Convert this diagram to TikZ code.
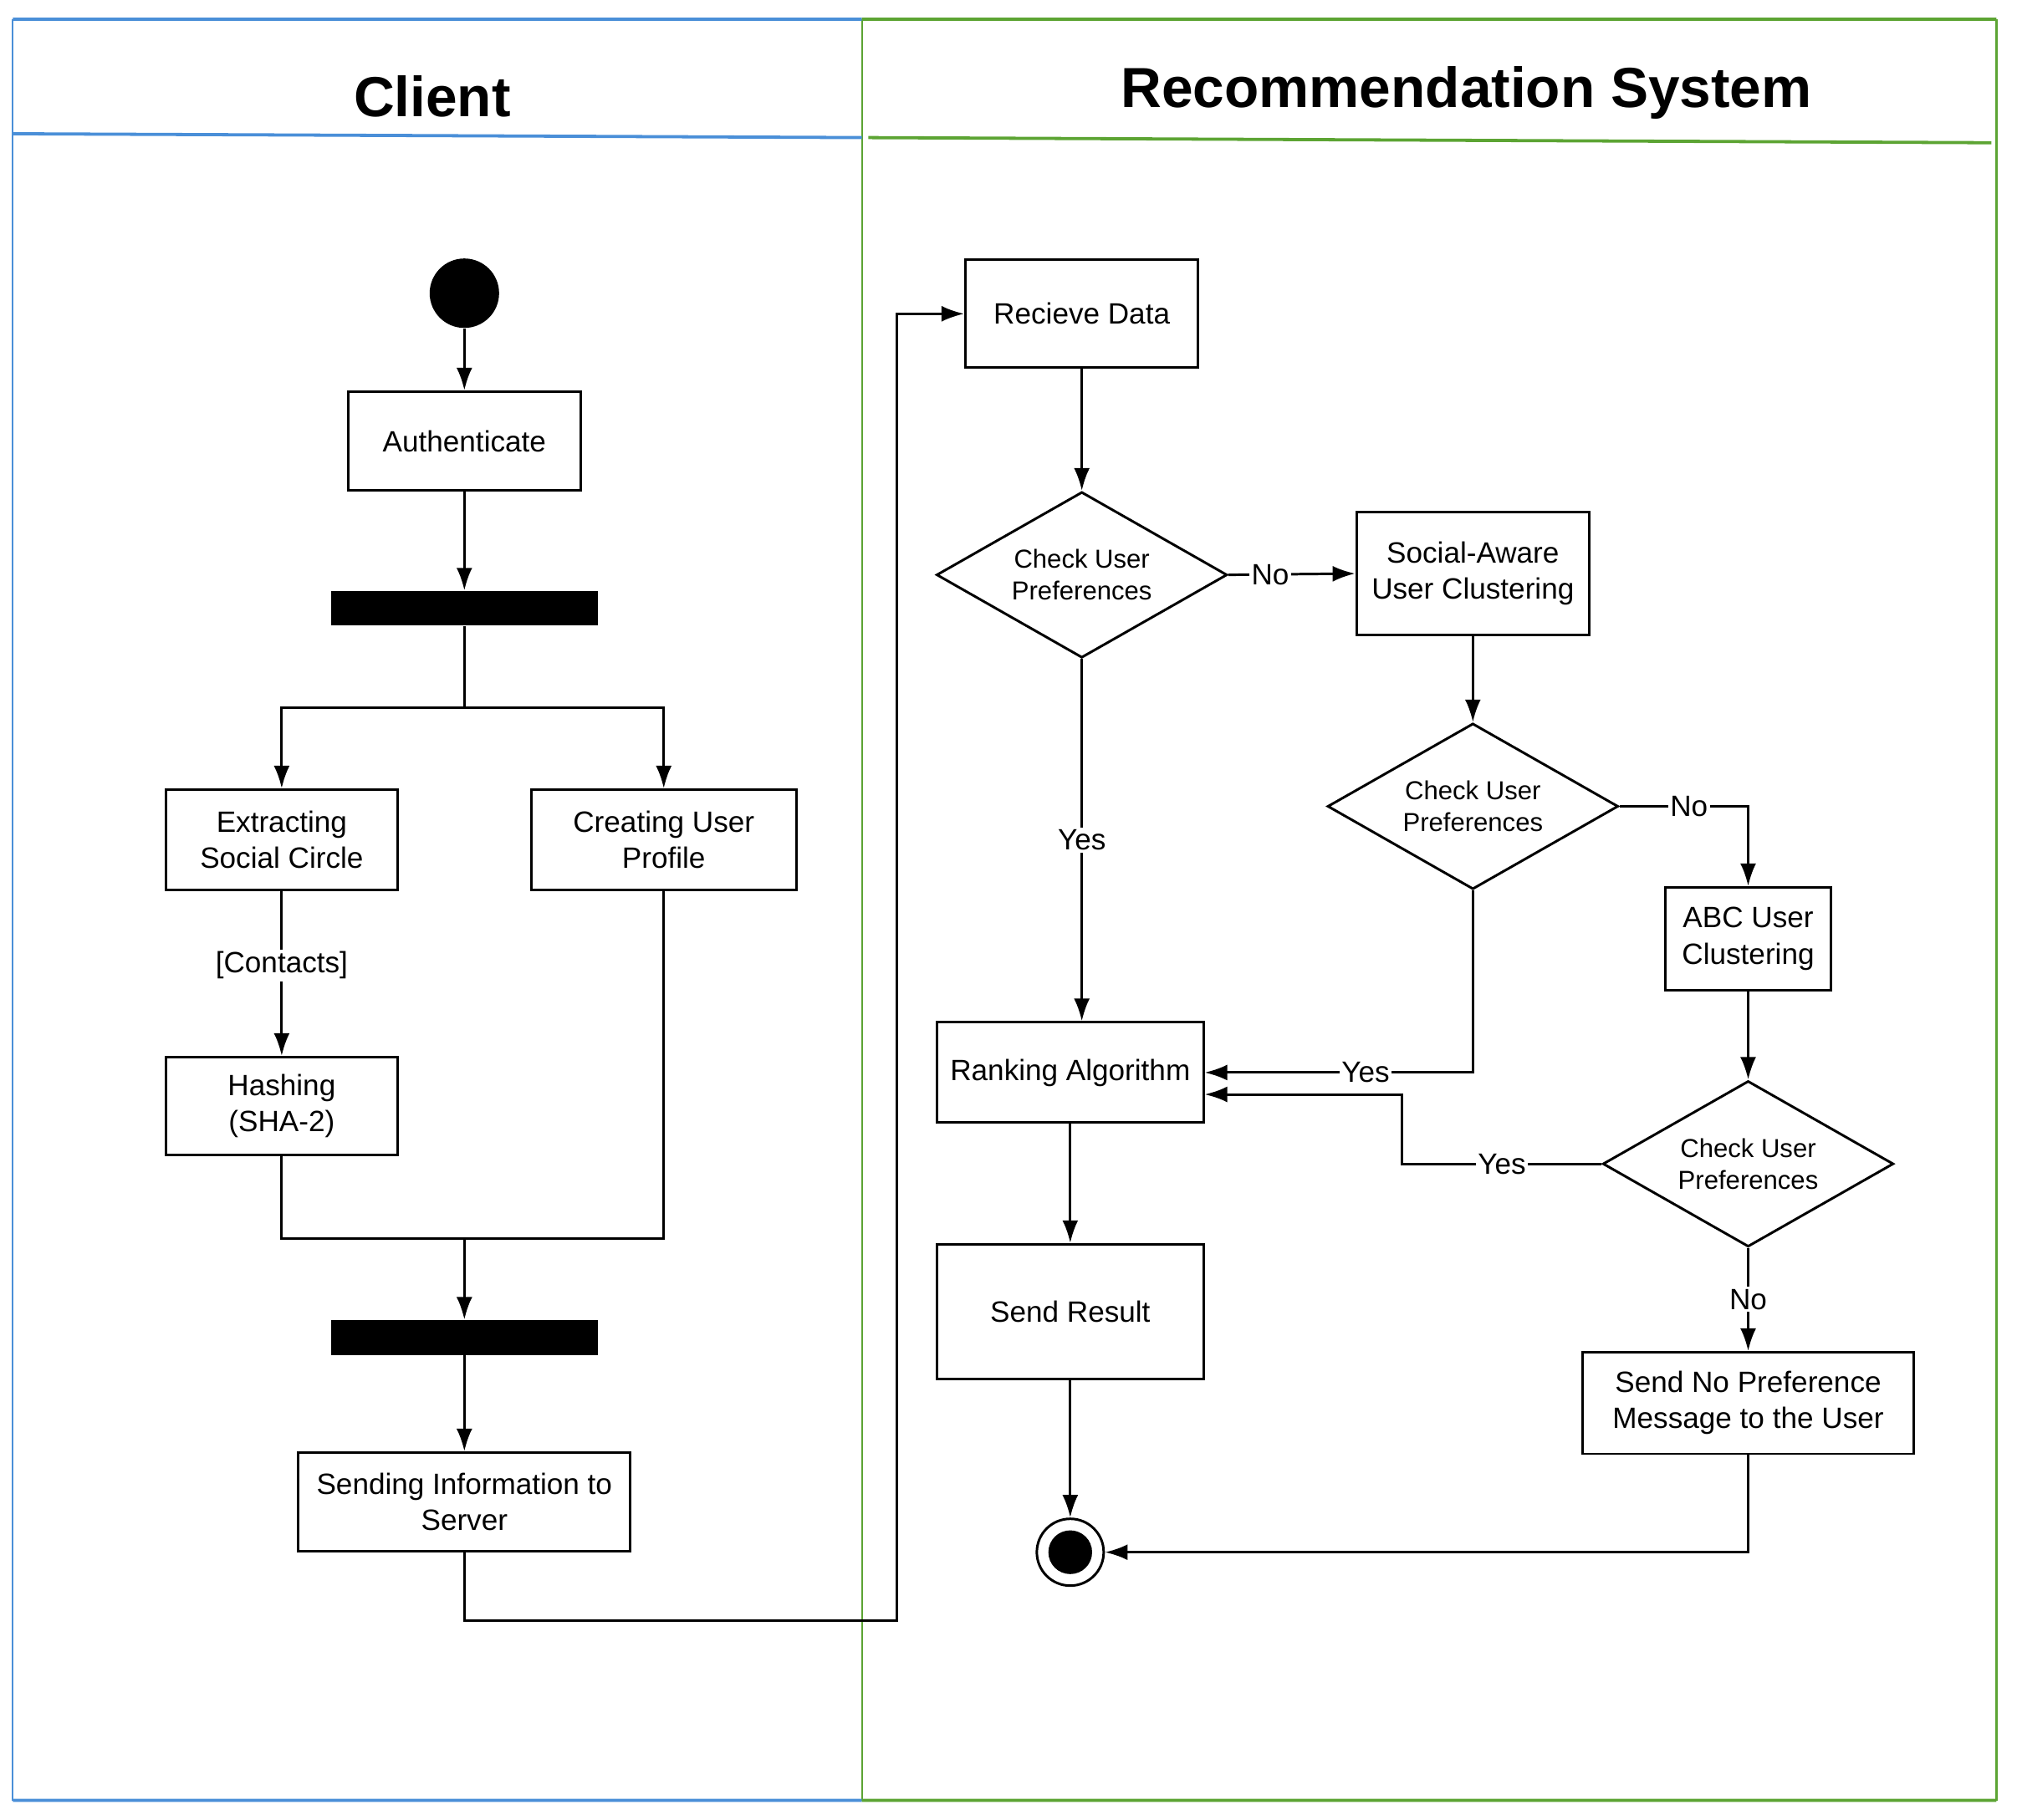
\documentclass[tikz,border=0pt]{standalone}
\usepackage{fontspec}
\setmainfont{Liberation Sans}
\usetikzlibrary{arrows.meta,positioning,shapes.geometric}
\definecolor{lblue}{HTML}{4A8FD8}
\definecolor{lgreen}{HTML}{5CA433}
\tikzset{
  act/.style={draw=black,fill=white,line width=1.1pt,align=center,font=\fontsize{13}{16}\selectfont,inner sep=2pt},
  dec/.style={diamond,aspect=1.75,draw=black,fill=white,line width=1.1pt,align=center,font=\fontsize{11.5}{14}\selectfont,inner sep=0pt,minimum width=4.52cm,minimum height=2.58cm},
  bar/.style={fill=black,minimum width=4.14cm,minimum height=0.54cm,inner sep=0pt},
  arr/.style={-{Latex[length=10pt,width=7pt]},line width=1.1pt,draw=black},
  ln/.style={line width=1.1pt,draw=black},
  lbl/.style={fill=white,inner sep=1pt,font=\fontsize{13}{15}\selectfont},
  lanetitle/.style={font=\fontsize{25}{30}\selectfont\bfseries},
}
\begin{document}
\begin{tikzpicture}[x=0.02cm,y=-0.02cm]
  \useasboundingbox (0,0) rectangle (1568,1415);
  % lanes
  \draw[lblue,line width=0.8pt] (10,15) -- (10,1400);
  \draw[lgreen,line width=0.8pt] (670,15) -- (670,1400) (1552,15) -- (1552,1400);
  \draw[lblue,line width=1.4pt] (10,15) -- (670,15) (10,104) -- (670,107) (10,1400) -- (670,1400);
  \draw[lgreen,line width=1.4pt] (670,15) -- (1552,15) (675,107) -- (1548,111) (670,1400) -- (1552,1400);
  \node[lanetitle] (tc) at (336,75) {Client};
  \node[lanetitle] (tr) at (1140,72) {Recommendation System};
  % client
  \node[circle,fill=black,minimum size=1.08cm,inner sep=0pt] (start) at (361,228) {};
  \node[act,minimum width=3.62cm,minimum height=1.54cm] (auth) at (361,343) {Authenticate};
  \node[bar] (fork1) at (361,473) {};
  \node[act,minimum width=3.6cm,minimum height=1.56cm] (esc) at (219,653) {Extracting\\Social Circle};
  \node[act,minimum width=4.12cm,minimum height=1.56cm] (cup) at (516,653) {Creating User\\Profile};
  \node[act,minimum width=3.6cm,minimum height=1.52cm] (hash) at (219,860) {Hashing\\(SHA-2)};
  \node[bar] (fork2) at (361,1040) {};
  \node[act,minimum width=5.16cm,minimum height=1.54cm] (send) at (361,1168) {Sending Information to\\Server};
  \coordinate (split) at (361,550);
  \coordinate (join) at (361,963);
  \coordinate (hop) at (697,1260);
  \draw[arr] (start) -- (auth);
  \draw[arr] (auth) -- (fork1);
  \draw[ln] (fork1.south) -- (split);
  \draw[arr] (split) -| (esc.north);
  \draw[arr] (split) -| (cup.north);
  \draw[arr] (esc) -- node[lbl,pos=0.45]{[Contacts]} (hash);
  \draw[ln] (hash.south) |- (join);
  \draw[ln] (cup.south) |- (join);
  \draw[arr] (join) -- (fork2);
  \draw[arr] (fork2) -- (send);
  % recommendation system
  \node[act,minimum width=3.62cm,minimum height=1.68cm] (recv) at (841,244) {Recieve Data};
  \node[dec] (chk1) at (841,447) {Check User\\Preferences};
  \node[act,minimum width=3.62cm,minimum height=1.92cm] (sauc) at (1145,446) {Social-Aware\\User Clustering};
  \node[dec] (chk2) at (1145,627) {Check User\\Preferences};
  \node[act,minimum width=2.58cm,minimum height=1.6cm] (abc) at (1359,730) {ABC User\\Clustering};
  \node[dec] (chk3) at (1359,905) {Check User\\Preferences};
  \node[act,minimum width=4.14cm,minimum height=1.56cm] (rank) at (832,834) {Ranking Algorithm};
  \node[act,minimum width=4.14cm,minimum height=2.1cm] (sres) at (832,1020) {Send Result};
  \node[act,minimum width=5.16cm,minimum height=1.58cm] (snp) at (1359,1091) {Send No Preference\\Message to the User};
  \node[circle,draw=black,line width=1.1pt,minimum size=1.04cm,inner sep=0pt] (fin) at (832,1207) {};
  \fill (fin.center) circle (0.34cm);
  \coordinate (bend) at (1090,851);
  \draw[arr] (send.south) |- (hop) |- (recv.west);
  \draw[arr] (recv) -- (chk1);
  \draw[arr] (chk1.east) -- node[lbl,pos=0.33]{No} (sauc.west);
  \draw[arr] (chk1.south) -- node[lbl]{Yes} (chk1.south |- rank.north);
  \draw[arr] (sauc.south) -- (chk2.north);
  \draw[arr] (chk2.east) -| node[lbl,pos=0.27]{No} (abc.north);
  \draw[arr] (chk2.south) |- node[lbl,pos=0.7]{Yes} (rank.east);
  \draw[arr] (abc) -- (chk3);
  \draw[arr] (chk3.west) -- node[lbl]{Yes} (chk3.west -| bend) -- (bend) -- (bend -| rank.east);
  \draw[arr] (chk3.south) -- node[lbl]{No} (snp.north);
  \draw[arr] (rank) -- (sres);
  \draw[arr] (sres) -- (fin);
  \draw[arr] (snp.south) |- (fin.east);
\end{tikzpicture}
\end{document}
